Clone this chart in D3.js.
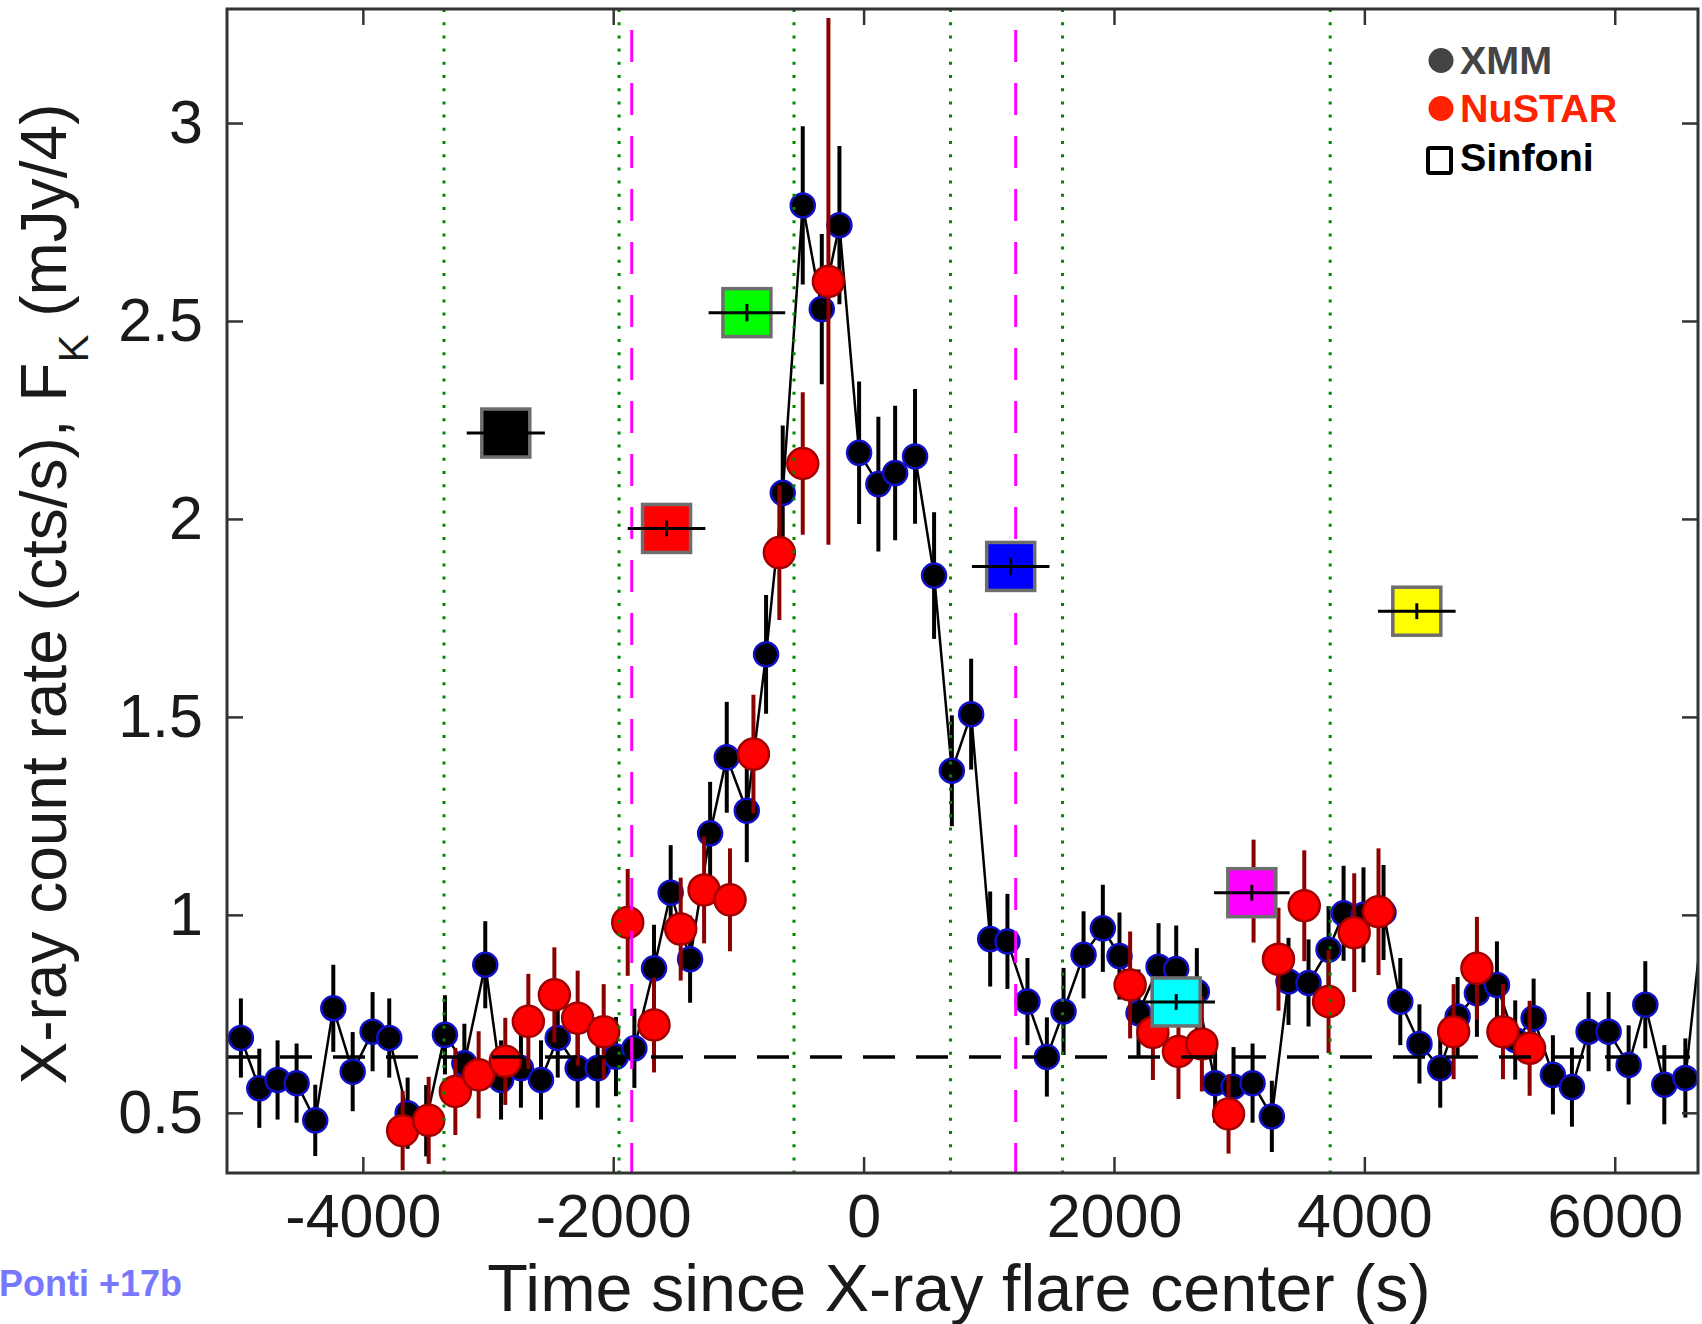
<!DOCTYPE html>
<html>
<head>
<meta charset="utf-8">
<script src="https://cdn.jsdelivr.net/npm/d3@7/dist/d3.min.js"></script>
<style>
body { margin: 0; background: #fff; }
text { font-family: "Liberation Sans", Arial, Helvetica, sans-serif; }
</style>
</head>
<body>
<script>
//XMM light curve: time (s), count rate, 1 sigma error
var xmmTime = [-4974, -4827, -4681, -4529, -4380, -4236, -4081, -3922, -3789, -3642, -3494, -3344, -3189, -3022,
  -2896, -2737, -2577, -2443, -2284, -2124, -1978, -1831, -1674, -1541, -1386, -1226, -1093, -933, -779, -646,
  -486, -334, -193, -36, 118, 252, 411, 563, 705, 859, 1011, 1149, 1309, 1464, 1597, 1757, 1911, 2044, 2196,
  2356, 2497, 2662, 2808, 2955, 3107, 3261, 3394, 3554, 3714, 3834, 3993, 4153, 4287, 4440, 4606, 4745, 4899,
  5059, 5205, 5352, 5506, 5658, 5791, 5951, 6111, 6244, 6396, 6564, 6790];
var xmmRate = [0.689, 0.562, 0.583, 0.575, 0.481, 0.764, 0.604, 0.705, 0.689, 0.499, 0.48, 0.697, 0.625, 0.874,
  0.583, 0.613, 0.583, 0.689, 0.613, 0.613, 0.642, 0.663, 0.865, 1.056, 0.888, 1.206, 1.398, 1.263, 1.658, 2.066,
  2.792, 2.530, 2.742, 2.167, 2.088, 2.116, 2.158, 1.857, 1.364, 1.507, 0.939, 0.933, 0.781, 0.641, 0.756, 0.899,
  0.966, 0.896, 0.752, 0.869, 0.863, 0.806, 0.575, 0.566, 0.575, 0.491, 0.832, 0.828, 0.912, 1.004, 1.0, 1.006,
  0.781, 0.674, 0.613, 0.743, 0.802, 0.823, 0.684, 0.739, 0.596, 0.565, 0.705, 0.705, 0.621, 0.773, 0.571, 0.588, 1.24];
var xmmErr = [0.10, 0.10, 0.10, 0.10, 0.09, 0.11, 0.10, 0.10, 0.10, 0.09, 0.09, 0.10, 0.10, 0.11,
  0.10, 0.10, 0.10, 0.10, 0.10, 0.10, 0.10, 0.10, 0.11, 0.12, 0.11, 0.13, 0.14, 0.13, 0.15, 0.17,
  0.20, 0.19, 0.20, 0.18, 0.17, 0.17, 0.17, 0.16, 0.14, 0.14, 0.12, 0.12, 0.11, 0.10, 0.11, 0.11,
  0.11, 0.11, 0.11, 0.11, 0.11, 0.11, 0.10, 0.10, 0.10, 0.09, 0.11, 0.11, 0.11, 0.12, 0.12, 0.12,
  0.11, 0.10, 0.10, 0.10, 0.11, 0.11, 0.10, 0.10, 0.10, 0.10, 0.10, 0.10, 0.10, 0.11, 0.10, 0.10, 0.13];

//NuSTAR light curve
var nuTime = [-3682, -3474, -3261, -3075, -2862, -2678, -2470, -2284, -2076, -1884, -1674, -1461, -1274, -1067,
  -880, -673, -486, -281, 2129, 2311, 2515, 2702, 2915, 3115, 3314, 3520, 3714, 3919, 4113, 4713, 4899, 5107, 5320];
var nuRate = [0.455, 0.481, 0.554, 0.596, 0.630, 0.731, 0.798, 0.739, 0.705, 0.981, 0.722, 0.964, 1.063, 1.038,
  1.406, 1.915, 2.140, 2.600, 0.823, 0.703, 0.655, 0.674, 0.497, 1.06, 0.888, 1.023, 0.781, 0.955, 1.008,
  0.705, 0.865, 0.705, 0.663];
var nuErr = [0.10, 0.11, 0.11, 0.11, 0.11, 0.12, 0.12, 0.12, 0.12, 0.135, 0.12, 0.13, 0.135, 0.13,
  0.15, 0.17, 0.18, 0.665, 0.135, 0.12, 0.12, 0.12, 0.10, 0.13, 0.13, 0.14, 0.13, 0.15, 0.16,
  0.12, 0.13, 0.12, 0.12];

//Sinfoni K band fluxes (mJy/4)
var sinTime = [-2858, -1574, -932, 1175, 2497, 3101, 4419];
var sinFlux = [2.217, 1.976, 2.521, 1.880, 0.780, 1.056, 1.767];
var sinTErr = [312, 310, 306, 310, 310, 302, 310];
var sinFErr = [0.01, 0.02, 0.022, 0.022, 0.02, 0.02, 0.02];
var sinColor = ["#000000", "#ff0000", "#00ff00", "#0000ff", "#00ffff", "#ff00ff", "#ffff00"];

//Reference lines
var greenLines = [-3352, -1953, -556, 694, 1589, 3727];
var magentaLines = [-1852, 1215];
var quiescent = 0.641;

//Axis ticks
var xTicks = [-4000, -2000, 0, 2000, 4000, 6000];
var yTicks = [0.5, 1, 1.5, 2, 2.5, 3];

//Legend entries
var legendNames = ["XMM", "NuSTAR", "Sinfoni"];
var legendColors = ["#444444", "#ff2200", "#000000"];

//Define Margin
var margin = {left: 227, right: 4, top: 9, bottom: 151},
    width = 1702 - margin.left - margin.right,
    height = 1324 - margin.top - margin.bottom;

var svg = d3.select("body")
    .append("svg")
    .attr("width", width + margin.left + margin.right)
    .attr("height", height + margin.top + margin.bottom);

var g = svg.append("g")
    .attr("transform", "translate(" + margin.left + "," + margin.top + ")");

//Scales
var x = d3.scaleLinear().domain([-5085, 6665]).range([0, width]);
var y = d3.scaleLinear().domain([0.348, 3.288]).range([height, 0]);

g.append("clipPath").attr("id", "clip")
  .append("rect").attr("width", width).attr("height", height);

var plot = g.append("g").attr("clip-path", "url(#clip)");

//Build point records
var xmm = xmmTime.map(function(t, i) { return {t: t, v: xmmRate[i], e: xmmErr[i]}; });
var nu = nuTime.map(function(t, i) { return {t: t, v: nuRate[i], e: nuErr[i]}; });
var sin = sinTime.map(function(t, i) {
  return {t: t, v: sinFlux[i], te: sinTErr[i], fe: sinFErr[i], c: sinColor[i]};
});

//XMM error bars, line and points
plot.append("g").selectAll("line")
    .data(xmm).enter().append("line")
    .attr("x1", function(d) { return x(d.t); })
    .attr("x2", function(d) { return x(d.t); })
    .attr("y1", function(d) { return y(d.v - d.e); })
    .attr("y2", function(d) { return y(d.v + d.e); })
    .attr("stroke", "#000")
    .attr("stroke-width", 4);

plot.append("path")
    .datum(xmm)
    .attr("fill", "none")
    .attr("stroke", "#000")
    .attr("stroke-width", 2.5)
    .attr("d", d3.line().x(function(d) { return x(d.t); }).y(function(d) { return y(d.v); }));

plot.append("g").selectAll("circle")
    .data(xmm).enter().append("circle")
    .attr("cx", function(d) { return x(d.t); })
    .attr("cy", function(d) { return y(d.v); })
    .attr("r", 12)
    .attr("fill", "#000")
    .attr("stroke", "#1010c8")
    .attr("stroke-width", 2.5);

//NuSTAR error bars and points
plot.append("g").selectAll("line")
    .data(nu).enter().append("line")
    .attr("x1", function(d) { return x(d.t); })
    .attr("x2", function(d) { return x(d.t); })
    .attr("y1", function(d) { return y(d.v - d.e); })
    .attr("y2", function(d) { return y(d.v + d.e); })
    .attr("stroke", "#8c0000")
    .attr("stroke-width", 4);

plot.append("g").selectAll("circle")
    .data(nu).enter().append("circle")
    .attr("cx", function(d) { return x(d.t); })
    .attr("cy", function(d) { return y(d.v); })
    .attr("r", 15.5)
    .attr("fill", "#ff0000")
    .attr("stroke", "#a00000")
    .attr("stroke-width", 2.5);

//Quiescent level
plot.append("line")
    .attr("x1", 0).attr("x2", width)
    .attr("y1", y(quiescent)).attr("y2", y(quiescent))
    .attr("stroke", "#000")
    .attr("stroke-width", 3.5)
    .attr("stroke-dasharray", "32,21");

//Vertical markers
plot.append("g").selectAll("line")
    .data(greenLines).enter().append("line")
    .attr("x1", function(d) { return x(d); })
    .attr("x2", function(d) { return x(d); })
    .attr("y1", 0).attr("y2", height)
    .attr("stroke", "#008a00")
    .attr("stroke-width", 3)
    .attr("stroke-dasharray", "3,10.2");

plot.append("g").selectAll("line")
    .data(magentaLines).enter().append("line")
    .attr("x1", function(d) { return x(d); })
    .attr("x2", function(d) { return x(d); })
    .attr("y1", 0).attr("y2", height)
    .attr("stroke", "#ff00ff")
    .attr("stroke-width", 3)
    .attr("stroke-dasharray", "32,21")
    .attr("stroke-dashoffset", 32);

//Sinfoni squares
var sq = plot.append("g").selectAll("g")
    .data(sin).enter().append("g");

sq.append("rect")
    .attr("x", function(d) { return x(d.t) - 24; })
    .attr("y", function(d) { return y(d.v) - 24; })
    .attr("width", 48).attr("height", 48)
    .attr("fill", function(d) { return d.c; })
    .attr("stroke", "#6e6e6e")
    .attr("stroke-width", 3.5);

sq.append("line")
    .attr("x1", function(d) { return x(d.t - d.te); })
    .attr("x2", function(d) { return x(d.t + d.te); })
    .attr("y1", function(d) { return y(d.v); })
    .attr("y2", function(d) { return y(d.v); })
    .attr("stroke", "#000").attr("stroke-width", 3);

sq.append("line")
    .attr("x1", function(d) { return x(d.t); })
    .attr("x2", function(d) { return x(d.t); })
    .attr("y1", function(d) { return y(d.v - d.fe); })
    .attr("y2", function(d) { return y(d.v + d.fe); })
    .attr("stroke", "#000").attr("stroke-width", 3);

//Axes
var fmt = function(d) { return String(d); };

g.append("g")
    .attr("transform", "translate(0," + height + ")")
    .call(d3.axisBottom(x).tickValues(xTicks).tickFormat(fmt).tickSizeInner(-16).tickSizeOuter(0).tickPadding(21));
g.append("g")
    .call(d3.axisTop(x).tickValues(xTicks).tickFormat("").tickSizeInner(-16).tickSizeOuter(0));
g.append("g")
    .call(d3.axisLeft(y).tickValues(yTicks).tickFormat(fmt).tickSizeInner(-16).tickSizeOuter(0).tickPadding(24));
g.append("g")
    .attr("transform", "translate(" + width + ",0)")
    .call(d3.axisRight(y).tickValues(yTicks).tickFormat("").tickSizeInner(-16).tickSizeOuter(0));

g.selectAll(".domain").remove();
g.selectAll(".tick line").attr("stroke", "#333").attr("stroke-width", 2.5);
g.selectAll(".tick text")
    .attr("fill", "#1a1a1a")
    .style("font-size", "61px")
    .style("font-family", "'Liberation Sans', Arial, sans-serif");

//Frame
g.append("rect")
    .attr("width", width).attr("height", height)
    .attr("fill", "none")
    .attr("stroke", "#333")
    .attr("stroke-width", 3);

//Axis titles
svg.append("text")
    .attr("x", 959).attr("y", 1311)
    .attr("text-anchor", "middle")
    .attr("fill", "#1a1a1a")
    .style("font-size", "66.5px")
    .text("Time since X-ray flare center (s)");

var yTitle = svg.append("text")
    .attr("transform", "translate(66,594) rotate(-90)")
    .attr("text-anchor", "middle")
    .attr("fill", "#1a1a1a")
    .style("font-size", "64px");
yTitle.append("tspan").text("X-ray count rate (cts/s), F");
yTitle.append("tspan").attr("dy", 22).style("font-size", "42px").text("K");
yTitle.append("tspan").attr("dy", -22).text(" (mJy/4)");

//Credit
svg.append("text")
    .attr("x", -1).attr("y", 1296)
    .attr("fill", "#7878ff")
    .style("font-size", "36px")
    .style("font-weight", "bold")
    .text("Ponti +17b");

//Legend
var legend = svg.append("g");
var legY = [74, 122, 171];
legendNames.forEach(function(name, i) {
  if (i < 2) {
    legend.append("circle")
        .attr("cx", 1441).attr("cy", legY[i] - 13.5)
        .attr("r", 12.5)
        .attr("fill", legendColors[i]);
  } else {
    legend.append("rect")
        .attr("x", 1428).attr("y", legY[i] - 23)
        .attr("width", 23).attr("height", 25)
        .attr("rx", 2)
        .attr("fill", "none")
        .attr("stroke", "#000")
        .attr("stroke-width", 4);
  }
  legend.append("text")
      .attr("x", 1460).attr("y", legY[i])
      .attr("fill", legendColors[i])
      .style("font-size", "39.5px")
      .style("font-weight", "bold")
      .text(name);
});
</script>
</body>
</html>
